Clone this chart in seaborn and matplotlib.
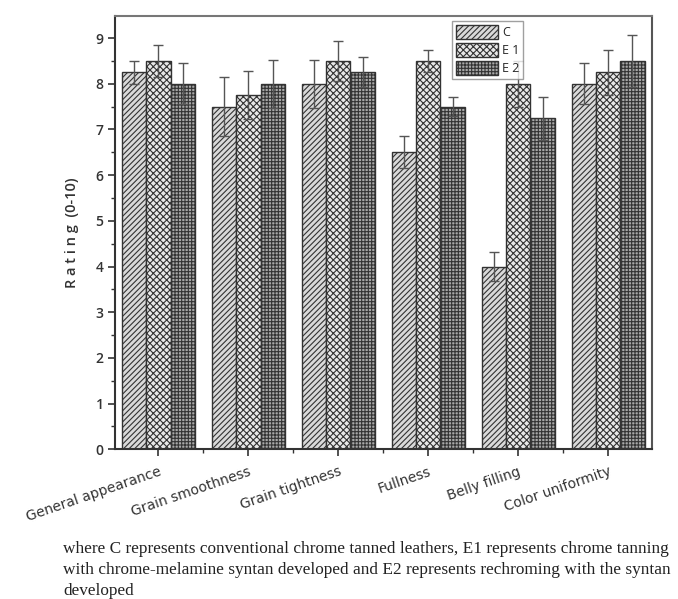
import matplotlib
matplotlib.use("Agg")
import matplotlib.pyplot as plt
import seaborn as sns
import pandas as pd
import numpy as np
from matplotlib.ticker import MultipleLocator, FixedLocator

categories = ["General appearance", "Grain smoothness", "Grain tightness",
              "Fullness", "Belly filling", "Color uniformity"]
groups = ["C", "E 1", "E 2"]
c_vals = [8.25, 7.5, 8.0, 6.5, 4.0, 8.0]
e1_vals = [8.5, 7.75, 8.5, 8.5, 8.0, 8.25]
e2_vals = [8.0, 8.0, 8.25, 7.5, 7.25, 8.5]
c_err = [0.25, 0.65, 0.53, 0.35, 0.32, 0.45]
e1_err = [0.35, 0.53, 0.43, 0.25, 0.5, 0.5]
e2_err = [0.45, 0.52, 0.33, 0.21, 0.47, 0.56]
caption = ("where C represents conventional chrome tanned leathers, E1 represents chrome tanning\n"
           "with chrome-melamine syntan developed and E2 represents rechroming with the syntan\n"
           "developed")

sns.set_theme(style="ticks")
plt.rcParams["font.family"] = ["Open Sans", "DejaVu Sans"]
plt.rcParams["hatch.linewidth"] = 0.8

df = pd.DataFrame({
    "Parameter": categories * 3,
    "Group": sum([[g] * len(categories) for g in groups], []),
    "Rating": c_vals + e1_vals + e2_vals,
})
errs = [c_err, e1_err, e2_err]

fig = plt.figure(figsize=(6.78, 5.99), dpi=100)
ax = fig.add_axes([0.170, 0.250, 0.792, 0.723])

faces = ["#d9d9d9", "#e8e8e8", "#a8a8a8"]
hatch_cols = ["#8a8a8a", "#2a2a2a", "#4a4a4a"]
hatches = ["//////", "xxxxx", "+++++"]
sns.barplot(data=df, x="Parameter", y="Rating", hue="Group", order=categories,
            hue_order=groups, palette=faces, width=0.81, errorbar=None,
            ax=ax, legend=False, saturation=1)

for cont, h, fc, hc, er in zip(ax.containers, hatches, faces, hatch_cols, errs):
    xs, ys = [], []
    for p in cont.patches:
        p.set_hatch(h)
        p.set_facecolor(fc)
        p.set_edgecolor("#333333")
        if hasattr(p, "set_hatchcolor"):
            p.set_hatchcolor(hc)
        p.set_linewidth(1.0)
        xs.append(p.get_x() + p.get_width() / 2)
        ys.append(p.get_height())
    ax.errorbar(xs, ys, yerr=er, fmt="none", ecolor="#555555",
                elinewidth=1.0, capsize=3.5, capthick=1.0, zorder=5)

leg = ax.legend(ax.containers, groups, loc="upper left",
                bbox_to_anchor=(0.622, 0.995), frameon=True, fancybox=False,
                edgecolor="#888888", fontsize=9, handlelength=3.4,
                handleheight=1.4, borderpad=0.3, labelspacing=0.3,
                handletextpad=0.3, borderaxespad=0.2)
leg.get_frame().set_linewidth(1.0)

ax.set_ylim(0, 9.48)
ax.set_xlim(-0.48, 5.49)
ax.yaxis.set_major_locator(MultipleLocator(1))
ax.yaxis.set_minor_locator(MultipleLocator(0.5))
ax.xaxis.set_minor_locator(FixedLocator(np.arange(0.5, 5.0, 1.0)))
ax.tick_params(axis="both", which="major", direction="out", length=5,
               width=1.2, color="#333333", labelsize=10, labelcolor="#333333")
ax.tick_params(axis="both", which="minor", direction="out", length=3,
               width=1.0, color="#333333")

ax.set_xticks(range(len(categories)))
ax.set_xticklabels(categories, rotation=19, ha="right",
                   rotation_mode="anchor", color="#333333",
                   family=["DejaVu Sans"], fontsize=10)
ax.tick_params(axis="x", which="major", pad=6)
for lbl in ax.get_yticklabels():
    lbl.set_fontweight("semibold")
ax.set_xlabel("")
ax.set_ylabel("R a t i n g  (0-10)", fontsize=10.5, color="#333333",
              fontweight="semibold", labelpad=12)

for s in ax.spines.values():
    s.set_visible(True)
    s.set_linewidth(1.5)
    s.set_color("#333333")
ax.spines["top"].set_color("#777777")
ax.spines["right"].set_color("#555555")

fig.text(0.093, 0.096, caption, fontsize=12.45, family=["Liberation Serif", "DejaVu Serif"],
         color="#222222", va="top", ha="left", linespacing=1.38)

fig.savefig("out.png", dpi=100)
